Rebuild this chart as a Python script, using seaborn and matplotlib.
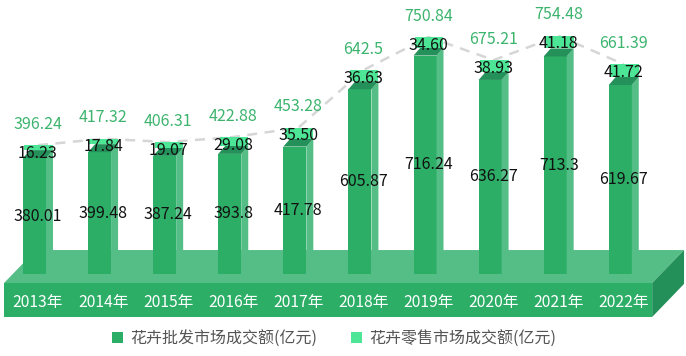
import numpy as np
import pandas as pd
import matplotlib
matplotlib.use("Agg")
import matplotlib.pyplot as plt
from matplotlib.patches import Polygon, Rectangle, Patch
import seaborn as sns

# ---------------- data ----------------
years = ["2013年", "2014年", "2015年", "2016年", "2017年",
         "2018年", "2019年", "2020年", "2021年", "2022年"]
wholesale = [380.01, 399.48, 387.24, 393.8, 417.78,
             605.87, 716.24, 636.27, 713.3, 619.67]
retail = [16.23, 17.84, 19.07, 29.08, 35.50,
          36.63, 34.60, 38.93, 41.18, 41.72]
total = [396.24, 417.32, 406.31, 422.88, 453.28,
         642.5, 750.84, 675.21, 754.48, 661.39]
wholesale_lbl = ["380.01", "399.48", "387.24", "393.8", "417.78",
                 "605.87", "716.24", "636.27", "713.3", "619.67"]
retail_lbl = ["16.23", "17.84", "19.07", "29.08", "35.50",
              "36.63", "34.60", "38.93", "41.18", "41.72"]
total_lbl = ["396.24", "417.32", "406.31", "422.88", "453.28",
             "642.5", "750.84", "675.21", "754.48", "661.39"]
legend_names = ["花卉批发市场成交额(亿元)", "花卉零售市场成交额(亿元)"]

# ---------------- style ----------------
sns.set_theme(style="white")
plt.rcParams["font.family"] = ["Noto Sans CJK SC", "DejaVu Sans"]

c_front = "#2cae66"
c_side = "#55be87"
c_cap = "#25915a"
c_retail = "#4de596"
c_floor_top = "#55bd86"
c_floor_side = "#23905a"
c_total = "#3cb46e"

fig = plt.figure(figsize=(6.86, 3.56), dpi=100)
ax = fig.add_axes([0, 0, 1, 1])

# geometry (category units / value units)
hw = 0.1766      # half width of bar front
dx = 0.1075      # depth offset x
dy = 26.2        # depth offset y

df = pd.DataFrame({"year": years, "wholesale": wholesale})

# floor
fl, fr = -0.468, 9.49
f_top, f_bot = -29.5, -141
fdx, fdy = 0.49, 108
ax.add_patch(Polygon([(fl, f_top), (fr, f_top), (fr + fdx, f_top + fdy), (fl + fdx, f_top + fdy)],
                     closed=True, color=c_floor_top, lw=0, zorder=1))
ax.add_patch(Rectangle((fl, f_bot), fr - fl, f_top - f_bot, color=c_front, lw=0, zorder=1))
ax.add_patch(Polygon([(fr, f_top), (fr + fdx, f_top + fdy), (fr + fdx, f_top + fdy - 111), (fr, f_bot)],
                     closed=True, color=c_floor_side, lw=0, zorder=1))

# wholesale front faces
sns.barplot(data=df, x="year", y="wholesale", color=c_front, width=2 * hw,
            saturation=1, ax=ax, zorder=3, linewidth=0)

for i, (w, r) in enumerate(zip(wholesale, retail)):
    x0, x1 = i - hw, i + hw
    # side
    ax.add_patch(Polygon([(x1, 0), (x1 + dx, dy), (x1 + dx, w + dy), (x1, w)],
                         closed=True, color=c_side, lw=0, zorder=3))
    # cap
    ax.add_patch(Polygon([(x0, w), (x1, w), (x1 + dx, w + dy), (x0 + dx, w + dy)],
                         closed=True, color=c_cap, lw=0, zorder=4))
    # retail segment on top
    ax.add_patch(Polygon([(x0 + dx * 0.2, w + dy), (x1 + dx, w + dy),
                          (x1 + dx, w + dy + r), (x0 + dx * 0.2, w + dy + r)],
                         closed=True, color=c_retail, lw=0, zorder=4))

# dashed line through tops
xs = np.arange(len(years)) + dx / 2
ax.plot(xs, np.array(total) + dy, color="#d6d6d6", lw=1.8, ls=(0, (4, 3)), zorder=2.5)

# labels
for i in range(len(years)):
    xc = i + dx / 2
    ax.text(xc, total[i] + 95, total_lbl[i], ha="center", va="center",
            fontsize=11.5, color=c_total, zorder=6)
    ax.text(xc, total[i], retail_lbl[i], ha="center", va="center",
            fontsize=11.5, color="#111111", zorder=6)
    ax.text(xc, wholesale[i] / 2, wholesale_lbl[i], ha="center", va="center",
            fontsize=11.5, color="#111111", zorder=6)
    ax.text(xc, -95, years[i], ha="center", va="center",
            fontsize=11.3, color="white", zorder=6)

ax.set_xlim(-0.53, 10.01)
ax.set_ylim(-268.9, 898.4)
ax.axis("off")

handles = [Patch(facecolor=c_front, edgecolor="none"),
           Patch(facecolor=c_retail, edgecolor="none")]
fig.legend(handles, legend_names, loc="center", bbox_to_anchor=(334 / 686, 0.048),
           ncol=2, frameon=False, fontsize=11.5, labelcolor="#555555",
           handlelength=0.7, handleheight=0.7, handletextpad=0.45, columnspacing=2.1)

fig.savefig("out.png", dpi=100)
